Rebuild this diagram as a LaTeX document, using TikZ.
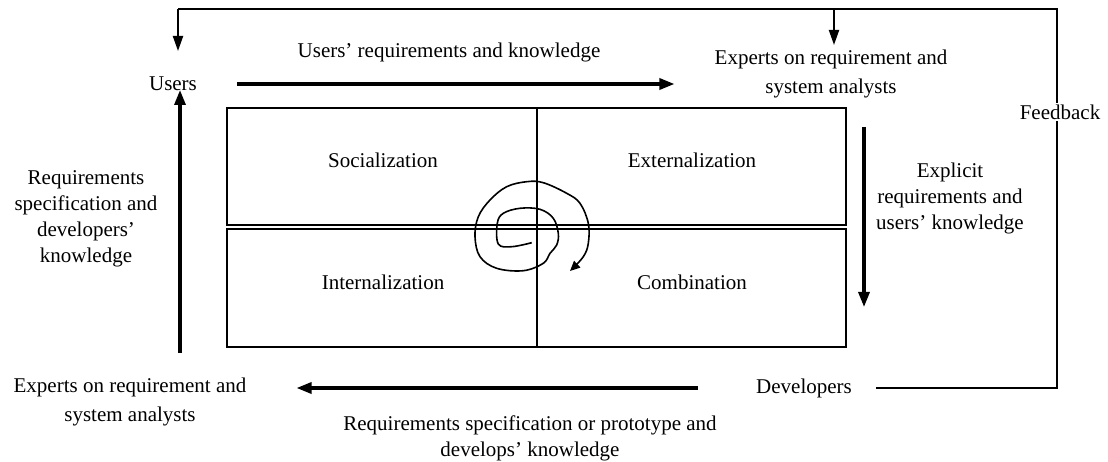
\documentclass[tikz,border=0pt]{standalone}
\usepackage{fontspec}
\setmainfont{Liberation Serif}
\usetikzlibrary{arrows.meta}

\begin{document}
\begin{tikzpicture}[x=1pt,y=-1pt]
    \tikzset{
        lbl/.style={align=center,inner sep=2pt,font=\fontsize{21}{26}\selectfont},
        twoline/.style={lbl,font=\fontsize{21}{29}\selectfont},
        bigarrow/.style={line width=3.2pt,-{Triangle[length=15pt,width=11pt]}},
        fbline/.style={line width=2pt},
        fbarrow/.style={fbline,-{Triangle[length=15pt,width=10pt]}},
        quad/.style={line width=1.5pt}
    }
    \useasboundingbox (0,0) rectangle (1108,462);

    % the four modes
    \draw[quad] (227,108) rectangle (846,225);
    \draw[quad] (227,229) rectangle (846,347);
    \draw[quad] (537,108) -- (537,347);
    \node[lbl] (soc) at (383,160) {Socialization};
    \node[lbl] (ext) at (692,160) {Externalization};
    \node[lbl] (int) at (383,282) {Internalization};
    \node[lbl] (com) at (692,282) {Combination};

    % spiral
    \draw[line width=1.6pt,-{Triangle[length=10pt,width=9pt]}] plot[smooth,tension=0.6] coordinates {
        (531.7,242.7) (511.7,246.7) (498.3,244) (497.3,223.3) (503.3,213.3)
        (520,208.3) (540,209.3) (553.3,218.3) (558.3,233.3) (556.7,245)
        (550,253.3) (543.3,263.3) (523.3,270.7) (496.7,268.3) (480,256.7)
        (475,236.7) (478.3,216.7) (490,200) (506.7,186.7) (526.7,181.7)
        (543.3,182.7) (566.7,193.3) (580,203.3) (588.3,223.3) (588.3,243.3)
        (583.3,256.7) (570,271)};

    % actors
    \node[lbl] (users) at (173,84) {Users};
    \node[twoline] (expTop) at (831,74) {Experts on requirement and\\system analysts};
    \node[lbl] (dev) at (804,388) {Developers};
    \node[twoline] (expBot) at (130,402) {Experts on requirement and\\system analysts};

    % flow labels
    \node[lbl] (uLbl) at (449,52) {Users' requirements and knowledge};
    \node[lbl] (eLbl) at (950,198) {Explicit\\requirements and\\users' knowledge};
    \node[lbl] (dLbl) at (530,438) {Requirements specification or prototype and\\develops' knowledge};
    \node[lbl] (rLbl) at (86,219) {Requirements\\specification and\\developers'\\knowledge};

    \coordinate (rTop) at (864,127);
    \coordinate (rBot) at (864,307);
    \coordinate (lBot) at (180,353);
    \coordinate (lTop) at (180,90);
    \coordinate (fbCorner) at (1057,9);
    \coordinate (fbUsers) at (178,9);
    \coordinate (fbExp) at (834,9);

    % main flow
    \draw[bigarrow,shorten <=38pt,shorten >=38pt] (users.east) -- (users.east -| expTop.west);
    \draw[bigarrow] (rTop) -- (rBot);
    \draw[bigarrow,shorten <=56pt,shorten >=48pt] (dev.west) -- (dev.west -| expBot.east);
    \draw[bigarrow] (lBot) -- (lTop);

    % feedback
    \draw[fbline,shorten <=22pt] (dev.east) -- (dev.east -| fbCorner) -- (fbCorner) -- (fbUsers);
    \draw[fbarrow] (fbUsers) -- (178,51);
    \draw[fbarrow] (fbExp) -- (834,45);
    \node[lbl,fill=white] (fb) at (1060,112) {Feedback};
\end{tikzpicture}
\end{document}
